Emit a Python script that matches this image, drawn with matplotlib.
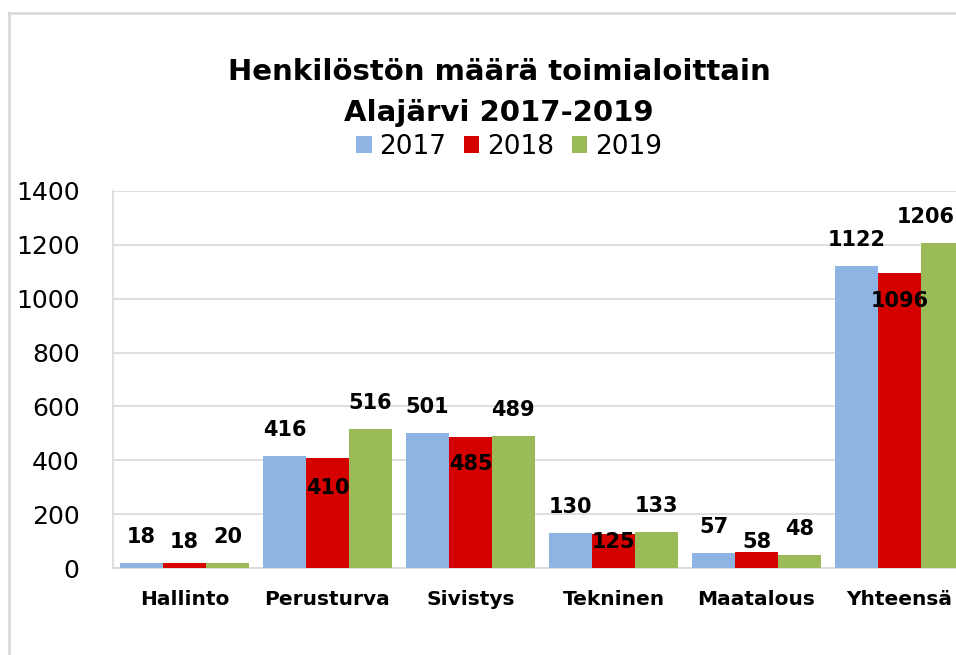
import numpy as np
import matplotlib
matplotlib.use("Agg")
import matplotlib.pyplot as plt
from matplotlib.lines import Line2D

# ---------------------------- DATA ----------------------------
categories = ["Hallinto", "Perusturva", "Sivistys", "Tekninen", "Maatalous", "Yhteensä"]
years = ["2017", "2018", "2019"]
v2017 = [18, 416, 501, 130, 57, 1122]
v2018 = [18, 410, 485, 125, 58, 1096]
v2019 = [20, 516, 489, 133, 48, 1206]

# ---------------------------- STYLE ----------------------------
colors = ["#8EB4E3", "#D50000", "#9BBB59"]
# label offsets in pixels (centre of text relative to top of bar)
off_outside = 26
off_2018 = [21, -30, -27, -8, 10, -28]

plt.rcParams['font.family'] = ['DejaVu Sans']

fig = plt.figure(figsize=(9.56, 6.55), dpi=100)
W, H = 956.0, 655.0

# plot area (right part is cut off like the original screenshot)
ax = fig.add_axes([113 / W, 1 - 568 / H, 858 / W, 377 / H])

x = np.arange(len(categories))
bw = 0.3
series = [v2017, v2018, v2019]
for j, vals in enumerate(series):
    ax.bar(x + (j - 1) * bw, vals, width=bw, color=colors[j], label=years[j], zorder=3)

# data labels
for j, vals in enumerate(series):
    for i, v in enumerate(vals):
        off = off_2018[i] if j == 1 else off_outside
        dx = 0
        # last label sits at the cut edge, nudge it inside the picture
        if j == 2 and i == len(vals) - 1:
            dx = -17
        ax.annotate(str(v), (x[i] + (j - 1) * bw, v), xytext=(dx, off),
                    textcoords='offset pixels', ha='center', va='center',
                    fontsize=15, fontweight='bold', color='black',
                    annotation_clip=False, zorder=5)

ax.set_xlim(-0.5, len(categories) - 0.5)
ax.set_ylim(0, 1400)
ax.set_yticks(np.arange(0, 1401, 200))
ax.set_xticks(x)
ax.set_xticklabels(categories, fontsize=14.5, fontweight='bold')
ax.tick_params(axis='y', length=0, pad=24, labelsize=18, colors='black')
ax.tick_params(axis='x', length=0, pad=16)
ax.grid(axis='y', color='#D9D9D9', lw=1.2, zorder=0)
for s in ['top', 'right']:
    ax.spines[s].set_visible(False)
for s in ['left', 'bottom']:
    ax.spines[s].set_color('#D9D9D9')
    ax.spines[s].set_linewidth(1.2)

# title
fig.text(499 / W, 1 - 80 / H, "Henkilöstön määrä toimialoittain", ha='center',
         va='baseline', fontsize=21, fontweight='bold')
fig.text(499 / W, 1 - 121 / H, "Alajärvi 2017-2019", ha='center',
         va='baseline', fontsize=21, fontweight='bold')

# legend
fig.legend(loc='center', bbox_to_anchor=(509 / W, 1 - 147 / H), ncol=3,
           frameon=False, fontsize=19, handlelength=0.6, handleheight=0.6,
           handletextpad=0.3, columnspacing=0.65, borderaxespad=0, borderpad=0)

# outer chart border (only top and left visible in the crop)
fig.add_artist(Line2D([9 / W, 9 / W], [0, 1 - 13 / H], transform=fig.transFigure,
                      color='#D9D9D9', lw=2))
fig.add_artist(Line2D([9 / W, 1], [1 - 13 / H, 1 - 13 / H], transform=fig.transFigure,
                      color='#D9D9D9', lw=2))

fig.savefig("out.png", dpi=100)
